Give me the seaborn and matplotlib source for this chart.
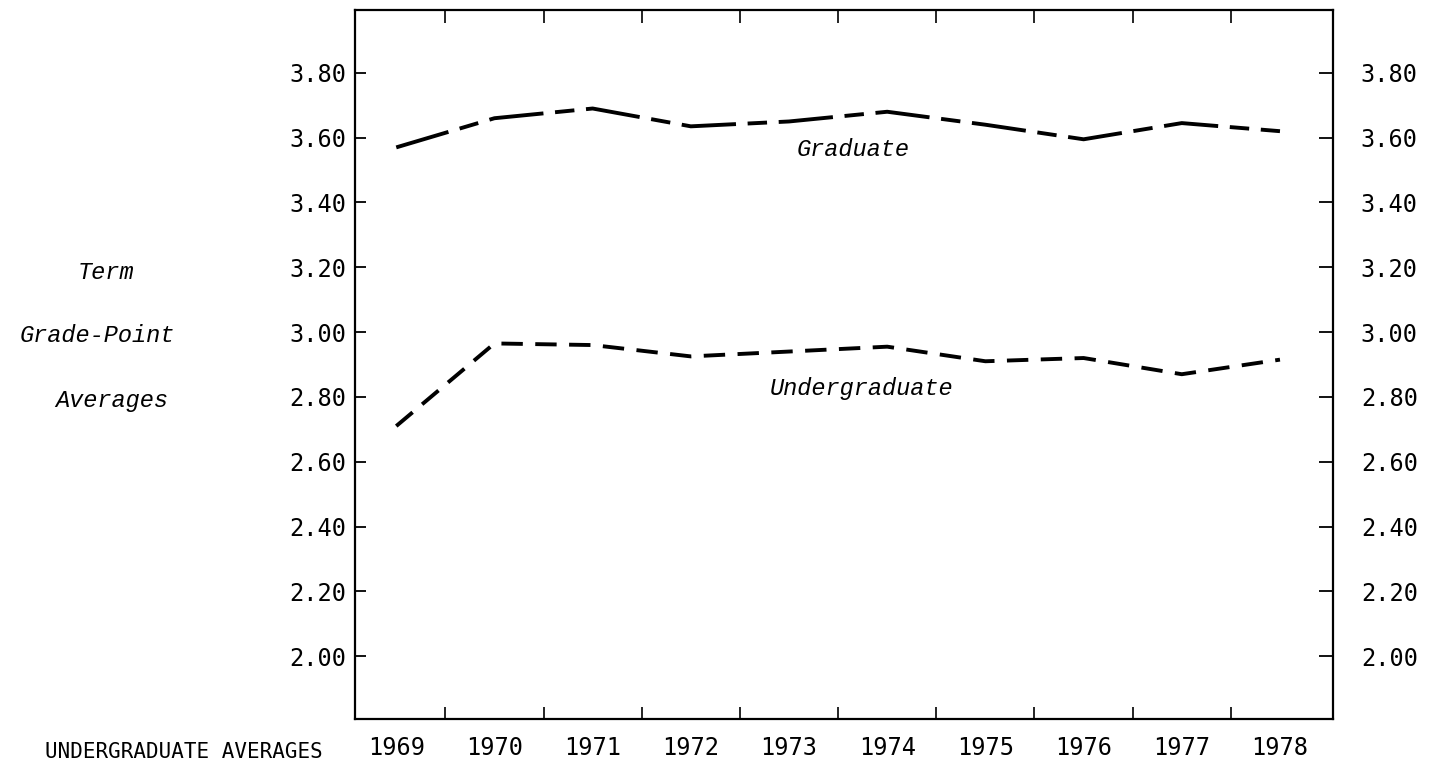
import matplotlib
matplotlib.use("Agg")
import matplotlib.pyplot as plt
import seaborn as sns
import pandas as pd
import numpy as np

years = [1969, 1970, 1971, 1972, 1973, 1974, 1975, 1976, 1977, 1978]
graduate = [3.57, 3.66, 3.69, 3.635, 3.65, 3.68, 3.64, 3.595, 3.645, 3.62]
undergraduate = [2.71, 2.965, 2.96, 2.925, 2.94, 2.955, 2.91, 2.92, 2.87, 2.915]
ytick_values = [2.00, 2.20, 2.40, 2.60, 2.80, 3.00, 3.20, 3.40, 3.60, 3.80]
ytick_labels = ["2.00", "2.20", "2.40", "2.60", "2.80", "3.00", "3.20", "3.40", "3.60", "3.80"]
series_names = ["Graduate", "Undergraduate"]

df = pd.DataFrame({
    "year": years * 2,
    "gpa": graduate + undergraduate,
    "level": [series_names[0]] * len(years) + [series_names[1]] * len(years),
})

sns.set_theme(style="white")
plt.rcParams["font.family"] = ["DejaVu Sans Mono", "DejaVu Sans"]

fig = plt.figure(figsize=(14.37, 7.63), dpi=100)
ax = fig.add_axes([355 / 1437, 1 - 719 / 763, (1333 - 355) / 1437, (719 - 10) / 763])

sns.lineplot(
    data=df, x="year", y="gpa", hue="level", style="level",
    palette={"Graduate": "black", "Undergraduate": "black"},
    dashes={"Graduate": (14, 3, 5, 3), "Undergraduate": (5.5, 3.2)},
    linewidth=2.8, legend=False, ax=ax,
)

ax.set_xlim(1968.58, 1978.54)
ax.set_ylim(1.806, 3.994)
ax.set_xlabel("")
ax.set_ylabel("")

for sp in ax.spines.values():
    sp.set_color("black")
    sp.set_linewidth(1.6)
    sp.set_visible(True)

# x: labels at years, ticks between years
ax.set_xticks(years)
ax.set_xticklabels([str(y) for y in years], fontsize=17)
ax.set_xticks([y + 0.5 for y in years[:-1]], minor=True)
ax.tick_params(axis="x", which="major", length=0, pad=12, colors="black")
ax.tick_params(axis="x", which="minor", direction="in", length=9, width=1.2,
               top=True, bottom=True, color="black")

ax.set_yticks(ytick_values)
ax.set_yticklabels(ytick_labels, fontsize=17)
ax.tick_params(axis="y", which="major", direction="in", length=8, width=1.3,
               left=True, right=False, pad=6, colors="black")

ax2 = ax.twinx()
ax2.set_ylim(ax.get_ylim())
ax2.set_yticks(ytick_values)
ax2.set_yticklabels(ytick_labels, fontsize=17)
ax2.tick_params(axis="y", direction="in", length=10, width=1.3, pad=20, colors="black")
for sp in ax2.spines.values():
    sp.set_visible(False)
ax2.grid(False)
ax.grid(False)

lab_font = dict(family=["Liberation Mono", "DejaVu Sans Mono"], style="italic",
                fontsize=17, color="black")
ax.text(1973.65, 3.563, "Graduate", ha="center", va="center", **lab_font)
ax.text(1973.74, 2.825, "Undergraduate", ha="center", va="center", **lab_font)

fig.text(106 / 1437, 1 - 272 / 763, "Term", ha="center", va="center", **lab_font)
fig.text(97 / 1437, 1 - 335 / 763, "Grade-Point", ha="center", va="center", **lab_font)
fig.text(112 / 1437, 1 - 400 / 763, "Averages", ha="center", va="center", **lab_font)

fig.text(323 / 1437, 1 / 763, "UNDERGRADUATE AVERAGES", ha="right", va="bottom",
         fontsize=15, color="black", family=["DejaVu Sans Mono"])

fig.savefig("out.png", dpi=100, facecolor="white")
